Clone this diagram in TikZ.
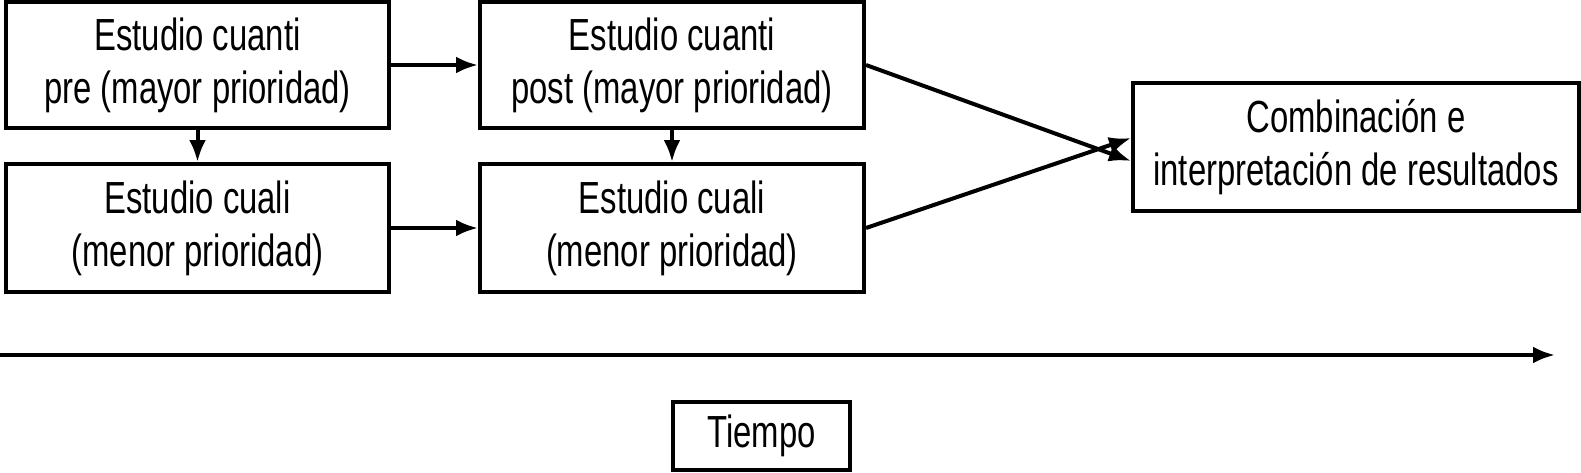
\documentclass[tikz,border=0pt]{standalone}
\usepackage{fontspec}
\setmainfont[FakeStretch=0.73]{Liberation Sans}
\usepackage{tikz}
\usetikzlibrary{arrows.meta, positioning, calc}
\tikzstyle{block} = [draw, rectangle, line width=2pt, align=center, inner sep=0pt, font=\fontsize{22.5}{26.5}\selectfont]
\tikzstyle{arrow} = [draw, -{Latex[length=11pt,width=8.5pt]}, line width=2pt]

\begin{document}
\begin{tikzpicture}[x=0.5pt, y=-0.5pt]
    \useasboundingbox (0,0) rectangle (1581,472);
    \node (quantpre) [block, minimum width=191.5pt, minimum height=63pt] at (197.5,65) {Estudio cuanti\\pre (mayor prioridad)};
    \node (qualpre) [block, minimum width=191.5pt, minimum height=64pt] at (197.5,228) {Estudio cuali\\(menor prioridad)};
    \node (quantpost) [block, minimum width=192pt, minimum height=63pt] at (672,65) {Estudio cuanti\\post (mayor prioridad)};
    \node (qualpost) [block, minimum width=192pt, minimum height=64pt] at (672,228) {Estudio cuali\\(menor prioridad)};
    \node (combine) [block, minimum width=223pt, minimum height=64pt] at (1356,147) {Combinación e\\interpretación de resultados};
    \node (tiempo) [block, minimum width=88.5pt, minimum height=34pt] at (761.5,436) {Tiempo};

    \coordinate (tstart) at (0,355);
    \coordinate (tend) at (1555,355);

    \draw [arrow] (quantpre) -- (quantpost);
    \draw [arrow] (qualpre) -- (qualpost);
    \draw [arrow] (quantpre) -- (qualpre);
    \draw [arrow] (quantpost) -- (qualpost);
    \draw [arrow] (quantpost.east) -- ($(combine.west)+(0,14)$);
    \draw [arrow] (qualpost.east) -- ($(combine.west)+(0,-9)$);
    \draw [arrow] (tstart) -- (tend);
\end{tikzpicture}
\end{document}
